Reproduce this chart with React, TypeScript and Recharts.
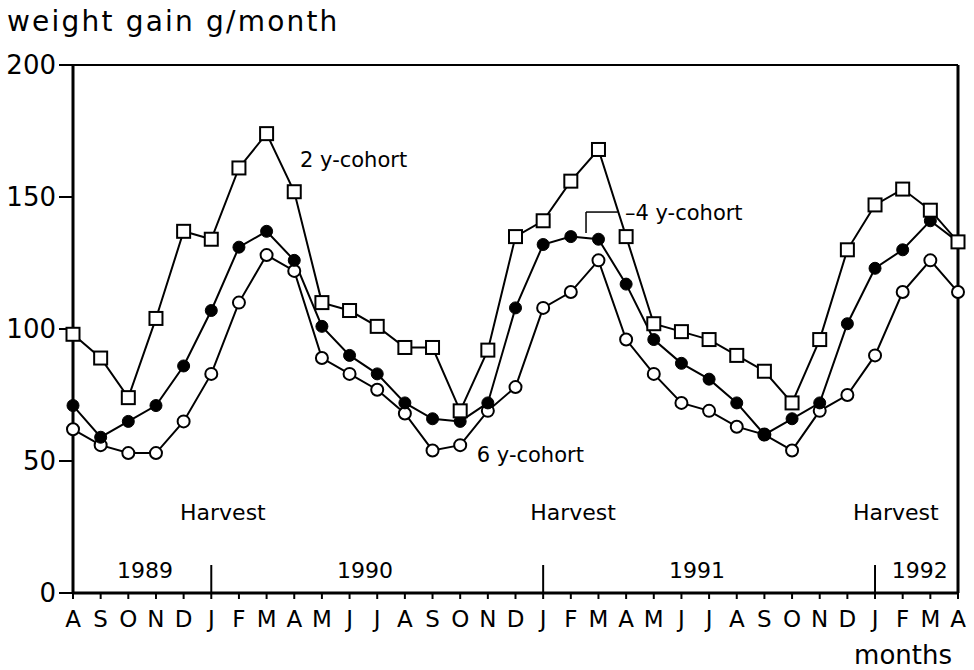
import React from 'react'
import {
  LineChart,
  Line,
  XAxis,
  YAxis,
  ReferenceLine,
  ReferenceDot
} from 'recharts'

// =====================================================
// DATA
// =====================================================

const MONTHS = [
  'A', 'S', 'O', 'N', 'D',
  'J', 'F', 'M', 'A', 'M', 'J', 'J', 'A', 'S', 'O', 'N', 'D',
  'J', 'F', 'M', 'A', 'M', 'J', 'J', 'A', 'S', 'O', 'N', 'D',
  'J', 'F', 'M', 'A'
]

const COHORT_2Y = [
  98, 89, 74, 104, 137,
  134, 161, 174, 152, 110, 107, 101, 93, 93, 69, 92, 135,
  141, 156, 168, 135, 102, 99, 96, 90, 84, 72, 96, 130,
  147, 153, 145, 133
]

const COHORT_4Y = [
  71, 59, 65, 71, 86,
  107, 131, 137, 126, 101, 90, 83, 72, 66, 65, 72, 108,
  132, 135, 134, 117, 96, 87, 81, 72, 60, 66, 72, 102,
  123, 130, 141, 133
]

const COHORT_6Y = [
  62, 56, 53, 53, 65,
  83, 110, 128, 122, 89, 83, 77, 68, 54, 56, 69, 78,
  108, 114, 126, 96, 83, 72, 69, 63, 60, 54, 69, 75,
  90, 114, 126, 114
]

const Y_TICKS = [0, 50, 100, 150, 200]

// year boundaries (index of January) and year labels
const YEAR_BREAKS = [5, 17, 29]
const YEARS = [
  { label: '1989', x: 2.6 },
  { label: '1990', x: 10.56 },
  { label: '1991', x: 22.56 },
  { label: '1992', x: 30.62 }
]
const HARVESTS = [5.42, 18.08, 29.75]

const data = MONTHS.map((m, i) => ({
  idx: i,
  month: m,
  c2: COHORT_2Y[i],
  c4: COHORT_4Y[i],
  c6: COHORT_6Y[i]
}))

const FONT = '"DejaVu Sans", sans-serif'
const INK = '#000'

// =====================================================
// MARKERS
// =====================================================

const SquareDot = (props: any) => {
  const { cx, cy, index } = props
  return (
    <rect key={`sq-${index}`} x={cx - 6.5} y={cy - 6.5} width={13} height={13}
      fill="#fff" stroke={INK} strokeWidth={2} />
  )
}

const FilledDot = (props: any) => {
  const { cx, cy, index } = props
  return <circle key={`fc-${index}`} cx={cx} cy={cy} r={6} fill={INK} stroke={INK} strokeWidth={1} />
}

const OpenDot = (props: any) => {
  const { cx, cy, index } = props
  return <circle key={`oc-${index}`} cx={cx} cy={cy} r={6} fill="#fff" stroke={INK} strokeWidth={2} />
}

const textLabel = (value: string, size: number, position: any = 'center') => ({
  value,
  position,
  offset: 0,
  fill: INK,
  fontSize: size,
  fontFamily: FONT
})

export default function App() {
  return (
    <div style={{ position: 'absolute', left: 0, top: 0, width: 974, height: 670, background: '#fff' }}>
      <div
        style={{
          position: 'absolute',
          left: 7,
          top: 5,
          fontFamily: FONT,
          fontSize: 28,
          letterSpacing: 2.2,
          lineHeight: '34px',
          color: INK
        }}
      >
        weight gain g/month
      </div>
      <LineChart
        width={974}
        height={670}
        data={data}
        margin={{ top: 65, right: 0, bottom: 0, left: 0 }}
      >
        <XAxis
          dataKey="idx"
          type="number"
          domain={[0, 32]}
          ticks={data.map(d => d.idx)}
          interval={0}
          tickFormatter={(v: number) => MONTHS[v]}
          height={77}
          axisLine={{ stroke: INK, strokeWidth: 3 }}
          tickLine={{ stroke: INK, strokeWidth: 2 }}
          tickSize={6}
          tickMargin={12}
          tick={{ fill: INK, fontSize: 23, fontFamily: FONT }}
          label={{ value: 'months', position: 'insideBottomRight', offset: 6, fill: INK, fontSize: 26, fontFamily: FONT }}
        />
        <YAxis
          yAxisId="left"
          domain={[0, 200]}
          ticks={Y_TICKS}
          width={73}
          axisLine={{ stroke: INK, strokeWidth: 3 }}
          tickLine={{ stroke: INK, strokeWidth: 2 }}
          tickSize={14}
          tickMargin={3}
          tick={{ fill: INK, fontSize: 26, fontFamily: FONT }}
        />
        <YAxis
          yAxisId="right"
          orientation="right"
          domain={[0, 200]}
          ticks={Y_TICKS}
          width={16}
          axisLine={{ stroke: INK, strokeWidth: 3 }}
          tickLine={{ stroke: INK, strokeWidth: 2 }}
          tickSize={6}
          tickFormatter={() => ''}
        />

        <ReferenceLine yAxisId="left" y={200} stroke={INK} strokeWidth={2} />

        {YEAR_BREAKS.map(x => (
          <ReferenceLine
            key={`yb-${x}`}
            yAxisId="left"
            segment={[{ x, y: 0 }, { x, y: 10.6 }]}
            stroke={INK}
            strokeWidth={2}
          />
        ))}

        {YEARS.map(y => (
          <ReferenceDot key={y.label} yAxisId="left" x={y.x} y={8.7} r={0}
            fill="none" stroke="none" label={textLabel(y.label, 22)} />
        ))}

        {HARVESTS.map((x, i) => (
          <ReferenceDot key={`h-${i}`} yAxisId="left" x={x} y={30.7} r={0}
            fill="none" stroke="none" label={textLabel('Harvest', 22)} />
        ))}

        {/* cohort annotations */}
        <ReferenceDot yAxisId="left" x={8.21} y={164} r={0} fill="none" stroke="none"
          label={textLabel('2 y-cohort', 21, 'right')} />
        <ReferenceLine yAxisId="left" segment={[{ x: 18.55, y: 136.4 }, { x: 18.55, y: 144.3 }]}
          stroke={INK} strokeWidth={1.5} />
        <ReferenceLine yAxisId="left" segment={[{ x: 18.55, y: 144.3 }, { x: 19.7, y: 144.3 }]}
          stroke={INK} strokeWidth={1.5} />
        <ReferenceDot yAxisId="left" x={19.96} y={144.3} r={0} fill="none" stroke="none"
          label={textLabel('–4 y-cohort', 21, 'right')} />
        <ReferenceDot yAxisId="left" x={14.6} y={52.3} r={0} fill="none" stroke="none"
          label={textLabel('6 y-cohort', 21, 'right')} />

        <Line yAxisId="left" type="linear" dataKey="c6" stroke={INK} strokeWidth={2}
          dot={OpenDot} activeDot={false} isAnimationActive={false} />
        <Line yAxisId="left" type="linear" dataKey="c4" stroke={INK} strokeWidth={2}
          dot={FilledDot} activeDot={false} isAnimationActive={false} />
        <Line yAxisId="left" type="linear" dataKey="c2" stroke={INK} strokeWidth={2}
          dot={SquareDot} activeDot={false} isAnimationActive={false} />
      </LineChart>
    </div>
  )
}
